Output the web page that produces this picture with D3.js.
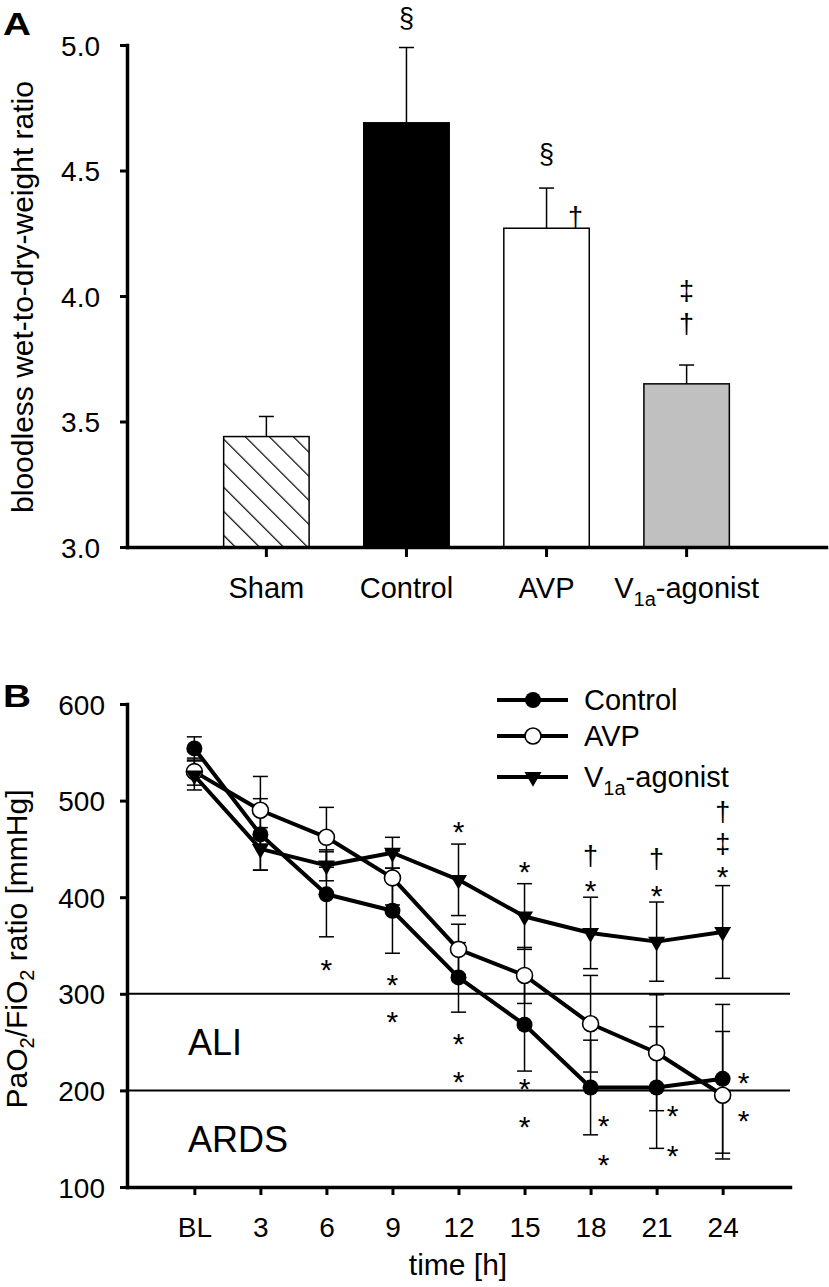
<!DOCTYPE html>
<html><head><meta charset="utf-8">
<script src="https://cdn.jsdelivr.net/npm/d3@7"></script>
<style>body{margin:0;background:#fff}</style>
</head><body>
<svg id="chart" width="829" height="1287" xmlns="http://www.w3.org/2000/svg"></svg>
<script>
// ---------- Panel A data ----------
const groups = ["Sham", "Control", "AVP", "V1a-agonist"];
const ratioMean = [3.44, 4.69, 4.27, 3.65];
const ratioSD = [0.08, 0.30, 0.16, 0.075];
const ratioTicks = [3.0, 3.5, 4.0, 4.5, 5.0];
// annotations: group, value (glyph centre), symbol, side (0 = centre, 1 = right of centre)
const annotA = [
  {g: "Control", v: 5.10, s: "§", side: 0},
  {g: "AVP", v: 4.56, s: "§", side: 0},
  {g: "AVP", v: 4.31, s: "†", side: 1},
  {g: "V1a-agonist", v: 4.015, s: "‡", side: 0},
  {g: "V1a-agonist", v: 3.885, s: "†", side: 0}
];

// ---------- Panel B data ----------
const times = ["BL", "3", "6", "9", "12", "15", "18", "21", "24"];
const controlMean = [554, 465, 403, 386, 317, 268, 203, 203, 212];
const controlSD   = [12, 37, 44, 44, 36, 48, 49, 63, 77];
const avpMean     = [530, 490, 462, 420, 346, 319, 269, 239, 195];
const avpSD       = [14, 35, 31, 28, 26, 29, 50, 60, 66];
const v1aMean     = [526, 450, 433, 446, 418, 380, 363, 354, 364];
const v1aSD       = [15, 22, 16, 16, 37, 34, 37, 41, 48];
const pfTicks = [100, 200, 300, 400, 500, 600];
const thresholds = [300, 200];
// annotations: time, value (glyph centre), symbol, side (0 centre, 1 right)
const annotB = [
  {t: "6", v: 332, s: "*", side: 0},
  {t: "9", v: 317, s: "*", side: 0}, {t: "9", v: 278, s: "*", side: 0},
  {t: "12", v: 475, s: "*", side: 0}, {t: "12", v: 256, s: "*", side: 0}, {t: "12", v: 216, s: "*", side: 0},
  {t: "15", v: 434, s: "*", side: 0}, {t: "15", v: 209, s: "*", side: 0}, {t: "15", v: 170, s: "*", side: 0},
  {t: "18", v: 442, s: "†", side: 0}, {t: "18", v: 414, s: "*", side: 0},
  {t: "18", v: 171, s: "*", side: 1}, {t: "18", v: 130, s: "*", side: 1},
  {t: "21", v: 439, s: "†", side: 0}, {t: "21", v: 409, s: "*", side: 0},
  {t: "21", v: 181, s: "*", side: 1}, {t: "21", v: 140, s: "*", side: 1},
  {t: "24", v: 487, s: "†", side: 0}, {t: "24", v: 454, s: "‡", side: 0}, {t: "24", v: 429, s: "*", side: 0},
  {t: "24", v: 215, s: "*", side: 1}, {t: "24", v: 176, s: "*", side: 1}
];

const FONT = "'Liberation Sans', Arial, Helvetica, sans-serif";
const svg = d3.select("#chart").style("font-family", FONT);
const glyphOff = {"*": 0.58, "†": 0.30, "‡": 0.30, "§": 0.27};
const STAR = 30, SYM = 27;

// hatch pattern
const defs = svg.append("defs");
defs.append("pattern").attr("id", "hatch").attr("patternUnits", "userSpaceOnUse")
  .attr("width", 17).attr("height", 17).attr("patternTransform", "rotate(-45)")
  .call(p => {
    p.append("rect").attr("width", 17).attr("height", 17).attr("fill", "#fff");
    p.append("line").attr("x1", 0).attr("y1", 0).attr("x2", 0).attr("y2", 17)
      .attr("stroke", "#000").attr("stroke-width", 2.4);
  });

function styleAxis(g, w) {
  g.select(".domain").attr("stroke", "#000").attr("stroke-width", w).attr("stroke-linecap", "square");
  g.selectAll(".tick line").attr("stroke", "#000").attr("stroke-width", 3);
  g.selectAll("text").attr("fill", "#000").style("font-family", FONT);
}

// ================= Panel A =================
const xA = d3.scaleBand().domain(groups).range([127, 826]).paddingInner(0.39).paddingOuter(0.69);
const yA = d3.scaleLinear().domain([3, 5]).range([547, 45]);
const fillsA = ["url(#hatch)", "#000", "#fff", "#c0c0c0"];

const gA = svg.append("g");
gA.selectAll(".errA").data(groups).join("g").each(function(g, i) {
  const cx = xA(g) + xA.bandwidth() / 2;
  const s = d3.select(this);
  s.append("line").attr("x1", cx).attr("x2", cx).attr("y1", yA(ratioMean[i])).attr("y2", yA(ratioMean[i] + ratioSD[i]))
    .attr("stroke", "#000").attr("stroke-width", 1.5);
  s.append("line").attr("x1", cx - 7.5).attr("x2", cx + 7.5).attr("y1", yA(ratioMean[i] + ratioSD[i])).attr("y2", yA(ratioMean[i] + ratioSD[i]))
    .attr("stroke", "#000").attr("stroke-width", 1.5);
});
gA.selectAll(".barA").data(groups).join("rect")
  .attr("x", d => xA(d)).attr("width", xA.bandwidth())
  .attr("y", (d, i) => yA(ratioMean[i])).attr("height", (d, i) => yA(3) - yA(ratioMean[i]))
  .attr("fill", (d, i) => fillsA[i]).attr("stroke", "#000").attr("stroke-width", 1.5);

const yAxisA = svg.append("g").attr("transform", "translate(127,0)")
  .call(d3.axisLeft(yA).tickValues(ratioTicks).tickFormat(d3.format(".1f")).tickSize(7).tickPadding(20).tickSizeOuter(0));
yAxisA.selectAll("text").attr("font-size", 28).attr("dy", "0.36em");
styleAxis(yAxisA, 3.5);

const xAxisA = svg.append("g").attr("transform", "translate(0,547)")
  .call(d3.axisBottom(xA).tickSize(10).tickSizeOuter(0));
xAxisA.selectAll("text").attr("font-size", 29).attr("y", 51).attr("dy", 0)
  .each(function(d) {
    if (d === "V1a-agonist") {
      const t = d3.select(this).text(null);
      t.append("tspan").text("V");
      t.append("tspan").attr("font-size", 20).attr("dy", 8).text("1a");
      t.append("tspan").attr("dy", -8).text("-agonist");
    }
  });
styleAxis(xAxisA, 3.5);

gA.selectAll(".annA").data(annotA).join("text")
  .attr("x", d => xA(d.g) + xA.bandwidth() / 2 + d.side * 29)
  .attr("y", d => yA(d.v) + glyphOff[d.s] * SYM)
  .attr("text-anchor", "middle").attr("font-size", SYM).text(d => d.s);

svg.append("text").attr("transform", "translate(33,297) rotate(-90)")
  .attr("text-anchor", "middle").attr("font-size", 30).text("bloodless wet-to-dry-weight ratio");
svg.append("text").attr("transform", "translate(3,35) scale(1.25,1)").attr("font-size", 31).attr("font-weight", "bold").text("A");

// ================= Panel B =================
const xB = d3.scalePoint().domain(times).range([127, 790]).padding(1.02);
const yB = d3.scaleLinear().domain([100, 600]).range([1187, 704]);

const gB = svg.append("g");
gB.selectAll(".thr").data(thresholds).join("line")
  .attr("x1", 127).attr("x2", 790).attr("y1", d => yB(d)).attr("y2", d => yB(d))
  .attr("stroke", "#000").attr("stroke-width", 2);

const series = [
  {name: "Control", mean: controlMean, sd: controlSD, marker: "filled"},
  {name: "AVP", mean: avpMean, sd: avpSD, marker: "open"},
  {name: "V1a-agonist", mean: v1aMean, sd: v1aSD, marker: "tri"}
];

series.forEach(s => {
  const eg = gB.append("g");
  times.forEach((t, i) => {
    const cx = xB(t), lo = yB(s.mean[i] - s.sd[i]), hi = yB(s.mean[i] + s.sd[i]);
    eg.append("line").attr("x1", cx).attr("x2", cx).attr("y1", lo).attr("y2", hi).attr("stroke", "#000").attr("stroke-width", 1.5);
    [lo, hi].forEach(yy => eg.append("line").attr("x1", cx - 7.5).attr("x2", cx + 7.5).attr("y1", yy).attr("y2", yy)
      .attr("stroke", "#000").attr("stroke-width", 1.5));
  });
});

const line = d3.line().x((d, i) => xB(times[i])).y(d => yB(d));
const triPath = d3.symbol().type(d3.symbolTriangle).size(125)();

function drawMarker(g, type, x, y) {
  if (type === "filled") g.append("circle").attr("cx", x).attr("cy", y).attr("r", 8).attr("fill", "#000");
  else if (type === "open") g.append("circle").attr("cx", x).attr("cy", y).attr("r", 8).attr("fill", "#fff").attr("stroke", "#000").attr("stroke-width", 1.6);
  else g.append("path").attr("d", triPath).attr("transform", `translate(${x},${y}) rotate(180)`).attr("fill", "#000");
}

series.forEach(s => {
  gB.append("path").datum(s.mean).attr("d", line).attr("fill", "none").attr("stroke", "#000").attr("stroke-width", 4).attr("stroke-linejoin", "round");
});
series.forEach(s => {
  const mg = gB.append("g");
  s.mean.forEach((v, i) => drawMarker(mg, s.marker, xB(times[i]), yB(v)));
});

const yAxisB = svg.append("g").attr("transform", "translate(127,0)")
  .call(d3.axisLeft(yB).tickValues(pfTicks).tickFormat(d3.format("d")).tickSize(7).tickPadding(15).tickSizeOuter(0));
yAxisB.selectAll("text").attr("font-size", 28).attr("dy", "0.36em");
styleAxis(yAxisB, 3.5);

const xAxisB = svg.append("g").attr("transform", "translate(0,1187)")
  .call(d3.axisBottom(xB).tickSize(8).tickSizeOuter(0));
xAxisB.selectAll("text").attr("font-size", 28).attr("y", 50).attr("dy", 0);
styleAxis(xAxisB, 3.5);

gB.selectAll(".annB").data(annotB).join("text")
  .attr("x", d => xB(d.t) + (d.side ? (d.t === "18" ? 13 : d.t === "21" ? 16 : 21) : 0))
  .attr("y", d => yB(d.v) + glyphOff[d.s] * (d.s === "*" ? STAR : SYM))
  .attr("text-anchor", "middle").attr("font-size", d => d.s === "*" ? STAR : SYM).text(d => d.s);

svg.append("text").attr("x", 188).attr("y", 1055).attr("font-size", 36).text("ALI");
svg.append("text").attr("x", 188).attr("y", 1152).attr("font-size", 36).text("ARDS");

const legY = [700, 736, 777];
series.forEach((s, i) => {
  const lg = svg.append("g");
  lg.append("line").attr("x1", 497).attr("x2", 568).attr("y1", legY[i]).attr("y2", legY[i]).attr("stroke", "#000").attr("stroke-width", 4);
  drawMarker(lg, s.marker, 533, legY[i]);
  const t = lg.append("text").attr("x", 584).attr("y", legY[i] + 10).attr("font-size", 29);
  if (s.name === "V1a-agonist") {
    t.append("tspan").text("V");
    t.append("tspan").attr("font-size", 20).attr("dy", 8).text("1a");
    t.append("tspan").attr("dy", -8).text("-agonist");
  } else t.text(s.name);
});

const yl = svg.append("text").attr("transform", "translate(27,949) rotate(-90)")
  .attr("text-anchor", "middle").attr("font-size", 30);
yl.append("tspan").text("PaO");
yl.append("tspan").attr("font-size", 20).attr("dy", 7).text("2");
yl.append("tspan").attr("dy", -7).text("/FiO");
yl.append("tspan").attr("font-size", 20).attr("dy", 7).text("2");
yl.append("tspan").attr("dy", -7).text(" ratio [mmHg]");

svg.append("text").attr("x", 458).attr("y", 1275).attr("text-anchor", "middle").attr("font-size", 30).text("time [h]");
svg.append("text").attr("transform", "translate(3,707) scale(1.25,1)").attr("font-size", 31).attr("font-weight", "bold").text("B");
</script>
</body></html>
